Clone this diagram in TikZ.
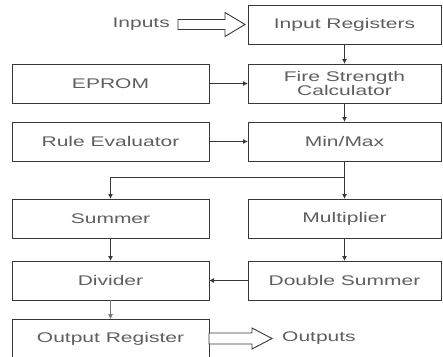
\documentclass[tikz,border=0pt]{standalone}
\usepackage{fontspec}
\setmainfont{Liberation Sans}[FakeStretch=1.5]
\usetikzlibrary{arrows.meta, positioning, calc}
\definecolor{fsline}{RGB}{55,55,55}
\definecolor{fstext}{RGB}{95,95,95}
\tikzset{
    blk/.style={draw=fsline, line width=0.9pt, fill=white, align=center, text=fstext,
                font=\fontsize{14pt}{14pt}\selectfont, minimum height=39pt, inner sep=2pt,
                outer sep=0pt},
    rblk/.style={blk, minimum width=193pt},
    lblk/.style={blk, minimum width=197pt},
    arrow/.style={-{Latex[length=5pt, width=5pt]}, line width=0.9pt, fsline},
    thinarrow/.style={arrow, line width=0.5pt, fsline!70},
    hollow/.style={draw=fsline, line width=0.9pt, fill=white},
    lbl/.style={text=fstext, font=\fontsize{14pt}{14pt}\selectfont, inner sep=1pt},
}

\begin{document}
\begin{tikzpicture}[node distance=20pt and 39pt]
    \useasboundingbox (0,0) rectangle (443pt,-356pt);
    % right column
    \node[rblk] (inreg) at (344.5pt,-24.5pt) {Input Registers};
    \node[rblk, below=20pt of inreg] (fsc) {Fire Strength\\Calculator};
    \node[rblk, below=19pt of fsc] (minmax) {Min/Max};
    \node[rblk, below=38pt of minmax] (mult) {Multiplier};
    \node[rblk, below=23pt of mult] (dsum) {Double Summer};
    % left column
    \node[lblk, left=of fsc] (eprom) {EPROM};
    \node[lblk, left=of minmax] (rule) {Rule Evaluator};
    \node[lblk, left=of mult] (summer) {Summer};
    \node[lblk, left=of dsum] (divider) {Divider};
    \node[lblk, below=19pt of divider] (outreg) {Output Register};
    % inputs
    \coordinate (ia) at ($(inreg.west)+(-70pt,0)$);
    \node[lbl, left=7pt of ia] (inp) {Inputs};
    \draw[hollow] (ia) ++(0,5pt) -- ++(47pt,0) -- ++(0,7pt) -- ++(20pt,-12pt)
        -- ++(-20pt,-12pt) -- ++(0,7pt) -- ++(-47pt,0) -- cycle;
    % outputs
    \coordinate (otip) at ($(outreg.east)+(63pt,0)$);
    \draw[hollow] (outreg.east) ++(0,5.5pt) -- ++(43pt,0) -- ++(0,5pt) -- (otip)
        -- ++(-20pt,-10.5pt) -- ++(0,5pt) -- ++(-43pt,0) -- cycle;
    \node[lbl, right=9pt of otip] (outp) {Outputs};
    % connectors
    \draw[arrow] (inreg) -- (fsc);
    \draw[arrow] (eprom) -- (fsc);
    \draw[arrow] (fsc) -- (minmax);
    \draw[arrow] (rule) -- (minmax);
    \draw[arrow] (minmax) -- (mult);
    \coordinate (br) at ($(minmax.south)+(0,-16pt)$);
    \draw[arrow] (br) -| (summer.north);
    \draw[arrow] (summer) -- (divider);
    \draw[arrow] (mult) -- (dsum);
    \draw[arrow] (dsum) -- (divider);
    \draw[thinarrow] (divider) -- (outreg);
\end{tikzpicture}
\end{document}
